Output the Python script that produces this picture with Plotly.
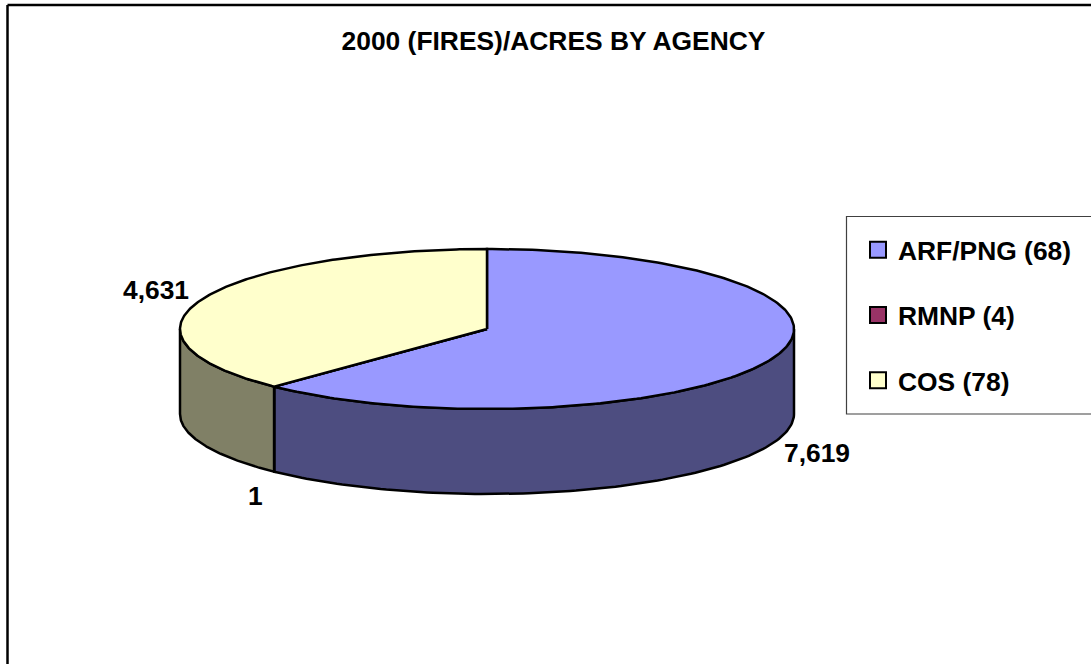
import numpy as np
import plotly.graph_objects as go

# Data
agencies = ["ARF/PNG (68)", "RMNP (4)", "COS (78)"]
acres = [7619, 1, 4631]
acre_labels = ["7,619", "1", "4,631"]

top_colors = ["#9999FF", "#993366", "#FFFFCC"]
side_colors = ["#4D4D80", "#4D1A33", "#808066"]

W, H = 1091, 664
CX, CY, RX, RY, DEPTH = 487, 329, 307, 80, 85  # pie geometry in pixels
FONT = "Liberation Sans"
FS = 26.4


def rim(theta_deg, drop=0.0):
    t = np.radians(theta_deg)
    return np.sin(t), np.cos(t) - drop


fig = go.Figure()
total = sum(acres)
edges = np.concatenate([[0], np.cumsum(acres) / total * 360])
drop = DEPTH / RY

# Visible walls of the pie (front half only)
for i in range(len(acres)):
    a, b = max(edges[i], 90), min(edges[i + 1], 270)
    if b <= a:
        continue
    th = np.linspace(a, b, 120)
    x1, y1 = rim(th)
    x2, y2 = rim(th[::-1], drop)
    fig.add_trace(go.Scatter(
        x=np.r_[x1, x2, x1[0]], y=np.r_[y1, y2, y1[0]], mode="lines", fill="toself",
        fillcolor=side_colors[i], line=dict(color="black", width=2.5),
        showlegend=False, hoverinfo="skip"))

# Top faces
for i in range(len(acres)):
    th = np.linspace(edges[i], edges[i + 1], 240)
    x1, y1 = rim(th)
    fig.add_trace(go.Scatter(
        x=np.r_[0, x1, 0], y=np.r_[0, y1, 0], mode="lines", fill="toself",
        fillcolor=top_colors[i], line=dict(color="black", width=2.5),
        showlegend=False, name=agencies[i], text=[acre_labels[i]], hoverinfo="name"))

# Legend entries
for name, col in zip(agencies, top_colors):
    fig.add_trace(go.Scatter(
        x=[None], y=[None], mode="markers", name=name, legendgroup=name,
        marker=dict(symbol="square", size=17, color=col, line=dict(color="black", width=2))))

# Slice value labels (pixel placement of the label boxes)
label_px = [(817, 453), (255, 496), (155.5, 290)]
annotations = [dict(
    x=(px - CX) / RX, y=(CY - py) / RY, xref="x", yref="y", text=t, showarrow=False,
    xanchor="center", yanchor="middle",
    font=dict(family=FONT, size=FS, color="black", weight="bold"))
    for t, (px, py) in zip(acre_labels, label_px)]

shapes = [
    # Chart area frame, cropped by the right and bottom of the page
    dict(type="line", xref="paper", yref="paper", x0=7.5 / W, x1=7.5 / W, y0=0, y1=1 - 5 / H,
         line=dict(color="black", width=2.5)),
    dict(type="line", xref="paper", yref="paper", x0=7.5 / W, x1=1, y0=1 - 5 / H, y1=1 - 5 / H,
         line=dict(color="black", width=2.5)),
    # Legend box, running past the right edge
    dict(type="rect", xref="paper", yref="paper", x0=846.5 / W, x1=1.01, y0=1 - 414 / H, y1=1 - 216.5 / H,
         line=dict(color="#404040", width=1.2), fillcolor="white", layer="below"),
]

fig.update_layout(
    width=W, height=H, margin=dict(l=0, r=0, t=0, b=0),
    paper_bgcolor="white", plot_bgcolor="rgba(0,0,0,0)",
    title=dict(text="2000 (FIRES)/ACRES BY AGENCY", x=553.5 / W, xanchor="center",
               y=1 - 41 / H, yanchor="middle",
               font=dict(family=FONT, size=FS, color="black", weight="bold")),
    xaxis=dict(range=[-CX / RX, (W - CX) / RX], visible=False, fixedrange=True),
    yaxis=dict(range=[(CY - H) / RY, CY / RY], visible=False, fixedrange=True),
    legend=dict(x=858 / W, xanchor="left", y=1 - 226 / H, yanchor="top",
                bgcolor="rgba(0,0,0,0)", borderwidth=0, tracegroupgap=28, itemsizing="trace",
                font=dict(family=FONT, size=FS, color="black", weight="bold"), itemclick=False, itemdoubleclick=False),
    annotations=annotations, shapes=shapes,
)

fig.write_html("out.html", config={"displayModeBar": False},
               post_script="document.body.style.margin='0';document.body.style.overflow='hidden';")
